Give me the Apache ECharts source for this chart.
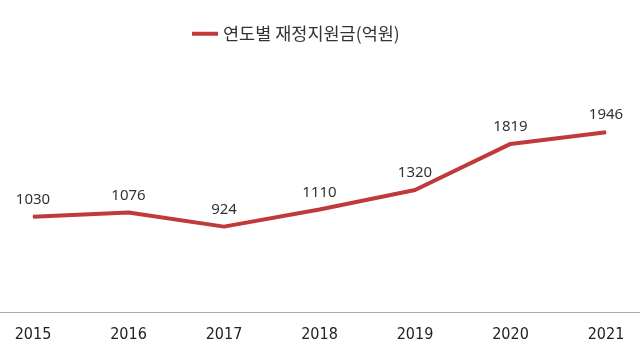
<!DOCTYPE html>
<html><head><meta charset="utf-8">
<script src="https://cdn.jsdelivr.net/npm/echarts@6/dist/echarts.min.js"></script>
<style>html,body{margin:0;padding:0;background:#fff}#c{width:640px;height:358px}</style>
</head><body><div id="c"></div>
<script>
const years = ['2015','2016','2017','2018','2019','2020','2021'];
const seriesName = '연도별 재정지원금(억원)';
const values = [1030, 1076, 924, 1110, 1320, 1819, 1946];

const chart = echarts.init(document.getElementById('c'));
chart.setOption({
  animation: false,
  legend: {
    top: 20, left: 187,
    itemWidth: 26, itemHeight: 4, itemGap: 8,
    icon: 'rect',
    textStyle: {fontSize: 17.5, color: '#333', fontFamily: 'Noto Sans CJK KR'},
    data: [seriesName]
  },
  grid: [
    {left: 33, right: 34, top: 81, bottom: 46},
    {left: 0, right: 0, top: 81, bottom: 46}
  ],
  xAxis: [{
    type: 'category', data: years, boundaryGap: false, gridIndex: 0,
    axisLine: {show: false},
    axisTick: {show: false},
    axisLabel: {fontSize: 16, color: '#222', margin: 15, fontFamily: 'DejaVu Sans Condensed'}
  }, {
    type: 'category', data: years, gridIndex: 1,
    axisLine: {lineStyle: {color: '#aaa', width: 1}},
    axisTick: {show: false}, axisLabel: {show: false}
  }],
  yAxis: [
    {type: 'value', min: 0, max: 2500, show: false, splitLine: {show: false}, gridIndex: 0},
    {type: 'value', min: 0, max: 2500, show: false, splitLine: {show: false}, gridIndex: 1}
  ],
  series: [{
    name: seriesName, type: 'line', data: values,
    xAxisIndex: 0, yAxisIndex: 0,
    symbol: 'circle', symbolSize: 1, showSymbol: true,
    lineStyle: {color: '#c0393b', width: 4},
    itemStyle: {color: '#c0393b'},
    label: {show: true, position: 'top', distance: 9, fontSize: 15, color: '#333', fontFamily: 'Noto Sans'}
  }]
});
</script></body></html>
